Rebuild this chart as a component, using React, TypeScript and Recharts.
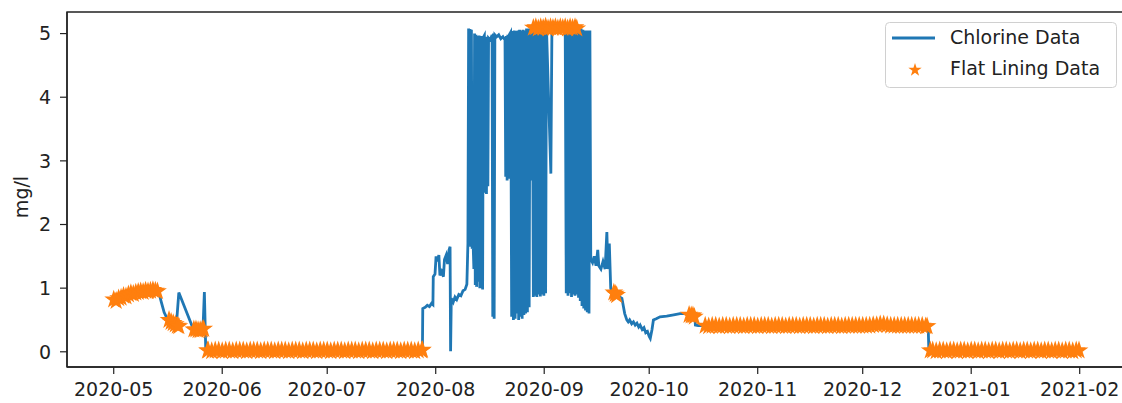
import { ComposedChart, Line, Scatter, XAxis, YAxis, ZAxis, ReferenceArea, Legend, Symbols } from "recharts";

// x values are days since 2020-05-01
const monthTicks = [0, 31, 61, 92, 123, 153, 184, 214, 245, 276];
const monthLabels = [
  "2020-05", "2020-06", "2020-07", "2020-08", "2020-09",
  "2020-10", "2020-11", "2020-12", "2021-01", "2021-02",
];
const valueTicks = [0, 1, 2, 3, 4, 5];

const X_DOMAIN: [number, number] = [-13.35, 289.8];
const Y_DOMAIN: [number, number] = [-0.239, 5.339];

// [day, mg/l]
const chlorine: [number, number][] = [
  [0, 0.82], [1, 0.83], [2, 0.86], [3, 0.88], [4, 0.9], [5, 0.91], [6, 0.93], [7, 0.93], [8, 0.94],
  [9, 0.95], [10, 0.95], [11, 0.96], [12, 0.96], [12.8, 0.95], [13.6, 0.78], [14.4, 0.62], [15.2, 0.53],
  [16, 0.49], [17, 0.45], [17.9, 0.42], [18.6, 0.93], [22.5, 0.39], [23.5, 0.36], [24.5, 0.35],
  [25.5, 0.35], [25.9, 0.94], [26.3, 0.02], [88.2, 0.02],
  [88.3, 0.68], [89, 0.7], [89.6, 0.73], [90.2, 0.71], [90.8, 0.76], [91.2, 0.74], [91.3, 1.18],
  [91.8, 1.22], [92.1, 1.5], [92.5, 1.42], [92.9, 1.52], [93.2, 1.2], [93.7, 1.26], [94.2, 1.18],
  [94.5, 1.45], [95, 1.52], [95.4, 1.38], [95.8, 1.6], [96.1, 1.65], [96.25, 0.01], [96.45, 0.84],
  [97, 0.78], [97.5, 0.86], [98, 0.82], [98.6, 0.9], [99.2, 0.88], [99.8, 0.96], [100.4, 0.98],
  [100.9, 1.06], [101.2, 1.7],
  [101.4, 5.08], [101.6, 1.72], [101.8, 5.07], [102, 1.65], [102.2, 5.06], [102.4, 1.62], [102.7, 1.68],
  [102.9, 1.3], [103.1, 5.0], [103.3, 1.05], [103.5, 4.98], [103.7, 1.02], [103.9, 4.96], [104.1, 1.1],
  [104.4, 4.97], [104.6, 1.0], [104.8, 4.95], [105, 1.02], [105.2, 4.96], [105.4, 0.98], [105.6, 4.94],
  [105.9, 4.97], [106.1, 2.5], [106.3, 4.92], [106.5, 2.48], [106.7, 4.95], [106.9, 2.6], [107.1, 4.93],
  [107.6, 4.9], [108.1, 4.98], [108.3, 0.55], [108.5, 5.0], [108.7, 0.52], [108.9, 4.98], [109.4, 4.95],
  [110, 4.98], [110.6, 4.92], [111.2, 4.95], [111.8, 4.9], [112, 2.75], [112.2, 4.96], [112.4, 2.69],
  [112.6, 4.98], [112.8, 2.72], [113, 4.98], [113.4, 5.02], [113.7, 0.55], [113.95, 5.04], [114.2, 0.5],
  [114.45, 5.05], [114.7, 0.52], [114.95, 5.04], [115.2, 0.6], [115.45, 5.05], [115.7, 0.5],
  [115.95, 5.06], [116.2, 0.55], [116.45, 5.05], [116.7, 0.52], [116.95, 5.06], [117.2, 0.58],
  [117.45, 5.05], [117.7, 0.6], [117.95, 5.08], [118.2, 0.62], [118.45, 5.08], [118.7, 0.7],
  [118.95, 5.08], [119.3, 2.69], [119.6, 5.08], [119.9, 0.86], [120.15, 5.08], [120.4, 0.88],
  [120.65, 5.08], [120.9, 0.86], [121.15, 5.08], [121.4, 0.9], [121.65, 5.08], [121.9, 0.87],
  [122.15, 5.08], [122.4, 0.9], [122.65, 5.08], [122.9, 0.88], [123.15, 5.08], [123.4, 0.92],
  [123.65, 5.08], [124.9, 2.8], [125.2, 5.08], [129, 5.08], [129.3, 0.92], [129.55, 5.08], [129.8, 0.88],
  [130.05, 5.08], [130.3, 0.92], [130.55, 5.08], [130.8, 0.86], [131.05, 5.08], [131.3, 0.9],
  [131.55, 5.08], [131.8, 0.88], [132.05, 5.08], [132.3, 0.9], [132.55, 5.08], [132.8, 0.85],
  [133.05, 5.08], [133.3, 0.8], [133.55, 5.08], [133.8, 0.72], [134.05, 5.06], [134.3, 0.68],
  [134.55, 5.05], [134.8, 0.65], [135.05, 5.05], [135.3, 0.62], [135.55, 5.05], [135.8, 0.6],
  [136.05, 5.05], [136.3, 1.45], [136.8, 1.4], [137.3, 1.5], [137.8, 1.35], [138.3, 1.6], [138.6, 1.35],
  [139.2, 1.3], [139.8, 1.42], [140.4, 1.3], [140.9, 1.88], [141.2, 1.3], [141.6, 1.7],
  [142, 1.0], [142.5, 0.92], [143.2, 0.9], [144, 0.88], [145.2, 0.84], [146, 0.6], [146.6, 0.5],
  [147, 0.47], [147.4, 0.5], [148, 0.44], [148.5, 0.47], [149, 0.42], [149.5, 0.45], [150, 0.39],
  [150.4, 0.42], [151, 0.35], [151.5, 0.38], [152, 0.3], [152.5, 0.32], [153, 0.24], [153.3, 0.21],
  [153.8, 0.35], [154.2, 0.5], [155, 0.52], [156.1, 0.55], [158, 0.56], [160, 0.58],
  [161.8, 0.6], [163.7, 0.6], [165, 0.58], [166, 0.57], [166.2, 0.42], [167, 0.41], [232.7, 0.41],
  [232.9, 0.02], [276, 0.02],
];

// [day, mg/l] points flagged as flat lining
const flatLining: [number, number][] = [
  [0, 0.82], [0.7, 0.8], [1.4, 0.84], [2.1, 0.85], [2.8, 0.88], [3.5, 0.87], [4.2, 0.9], [4.9, 0.92],
  [5.6, 0.91], [6.3, 0.93], [7, 0.94], [7.7, 0.95], [8.4, 0.94], [9.1, 0.96], [9.8, 0.95], [10.5, 0.96],
  [11.2, 0.97], [11.9, 0.96], [12.5, 0.95],
  [15.8, 0.5], [16.4, 0.47], [17, 0.45], [17.6, 0.43], [18.2, 0.41], [18.6, 0.4],
  [22.9, 0.35], [23.5, 0.35], [24.1, 0.34], [24.7, 0.34], [25.3, 0.35], [25.7, 0.36],
  [26.8, 0.02], [27, 0.02], [28, 0.01], [29, 0.02], [30, 0.02], [31, 0.01], [32, 0.02], [33, 0.02],
  [34, 0.01], [35, 0.02], [36, 0.02], [37, 0.02], [38, 0.01], [39, 0.02], [40, 0.02], [41, 0.02],
  [42, 0.01], [43, 0.02], [44, 0.02], [45, 0.02], [46, 0.01], [47, 0.02], [48, 0.02], [49, 0.02],
  [50, 0.01], [51, 0.02], [52, 0.02], [53, 0.02], [54, 0.01], [55, 0.02], [56, 0.02], [57, 0.02],
  [58, 0.01], [59, 0.02], [60, 0.02], [61, 0.02], [62, 0.01], [63, 0.02], [64, 0.02], [65, 0.02],
  [66, 0.01], [67, 0.02], [68, 0.02], [69, 0.02], [70, 0.01], [71, 0.02], [72, 0.02], [73, 0.02],
  [74, 0.01], [75, 0.02], [76, 0.02], [77, 0.02], [78, 0.01], [79, 0.02], [80, 0.02], [81, 0.02],
  [82, 0.01], [83, 0.02], [84, 0.02], [85, 0.02], [86, 0.01], [87, 0.02], [88, 0.02], [88.2, 0.03],
  [119.9, 5.09], [120.6, 5.1], [121.3, 5.08], [122, 5.1], [122.7, 5.09], [123.4, 5.11], [124.1, 5.08],
  [124.8, 5.1], [125.5, 5.09], [126.2, 5.1], [126.9, 5.08], [127.6, 5.1], [128.3, 5.09], [129, 5.1],
  [129.7, 5.08], [130.4, 5.1], [131.1, 5.09], [131.8, 5.1], [132.3, 5.08],
  [142.9, 0.93], [143.3, 0.91], [143.7, 0.89],
  [164.4, 0.58], [165, 0.57], [165.5, 0.57], [165.9, 0.55],
  [169, 0.41], [170, 0.4], [171, 0.41], [172, 0.41], [173, 0.4], [174, 0.41], [175, 0.41], [176, 0.4],
  [177, 0.41], [178, 0.41], [179, 0.41], [180, 0.4], [181, 0.41], [182, 0.41], [183, 0.41], [184, 0.4],
  [185, 0.41], [186, 0.41], [187, 0.41], [188, 0.4], [189, 0.41], [190, 0.41], [191, 0.41], [192, 0.4],
  [193, 0.41], [194, 0.41], [195, 0.41], [196, 0.4], [197, 0.41], [198, 0.41], [199, 0.41], [200, 0.4],
  [201, 0.41], [202, 0.41], [203, 0.41], [204, 0.4], [205, 0.41], [206, 0.41], [207, 0.41], [208, 0.4],
  [209, 0.41], [210, 0.41], [211, 0.41], [212, 0.41], [213, 0.41], [214, 0.41], [215, 0.41], [216, 0.41],
  [217, 0.42], [218, 0.42], [219, 0.43], [220, 0.43], [221, 0.42], [222, 0.41], [223, 0.41], [224, 0.41],
  [225, 0.41], [226, 0.41], [227, 0.41], [228, 0.41], [229, 0.41], [230, 0.41], [231, 0.41], [232, 0.4],
  [232.4, 0.4],
  [233.3, 0.02], [234, 0.02], [235, 0.01], [236, 0.02], [237, 0.02], [238, 0.01], [239, 0.02], [240, 0.02],
  [241, 0.01], [242, 0.02], [243, 0.02], [244, 0.01], [245, 0.02], [246, 0.02], [247, 0.01], [248, 0.02],
  [249, 0.02], [250, 0.01], [251, 0.02], [252, 0.02], [253, 0.01], [254, 0.02], [255, 0.02], [256, 0.01],
  [257, 0.02], [258, 0.02], [259, 0.01], [260, 0.02], [261, 0.02], [262, 0.01], [263, 0.02], [264, 0.02],
  [265, 0.01], [266, 0.02], [267, 0.02], [268, 0.01], [269, 0.02], [270, 0.02], [271, 0.01], [272, 0.02],
  [273, 0.02], [274, 0.01], [275, 0.02], [275.8, 0.02],
];

const chlorineData = chlorine.map(([day, value]) => ({ day, value }));
const flatData = flatLining.map(([day, value]) => ({ day, value }));

const BLUE = "#1f77b4";
const ORANGE = "#ff7f0e";
const INK = "#222222";
const FONT = "DejaVu Sans";

function LegendBox() {
  return (
    <svg width={232} height={66} style={{ display: "block" }}>
      <rect x={0.5} y={0.5} width={231} height={65} rx={4} fill="rgba(255,255,255,0.8)" stroke="#d0d0d0" />
      <line x1={7} x2={50} y1={16} y2={16} stroke={BLUE} strokeWidth={2.8} />
      <Symbols cx={30} cy={48} type="star" size={55} fill={ORANGE} />
      <text x={65} y={22} fontSize={19} fontFamily={FONT} fill={INK}>Chlorine Data</text>
      <text x={65} y={53} fontSize={19} fontFamily={FONT} fill={INK}>Flat Lining Data</text>
    </svg>
  );
}

export default function App() {
  return (
    <div style={{ position: "absolute", left: 0, top: 0, width: 1122, height: 403, overflow: "hidden", background: "#fff" }}>
      <ComposedChart width={1130} height={403} margin={{ top: 12, right: 2, bottom: 0, left: 0 }}>
        <XAxis
          type="number"
          dataKey="day"
          domain={X_DOMAIN}
          allowDataOverflow
          ticks={monthTicks}
          tickFormatter={(d: number) => monthLabels[monthTicks.indexOf(d)] ?? ""}
          height={36}
          tickSize={7}
          tickMargin={9}
          interval={0}
          axisLine={{ stroke: INK, strokeWidth: 1.4 }}
          tickLine={{ stroke: INK, strokeWidth: 1.2 }}
          tick={{ fontSize: 19, fill: INK, fontFamily: FONT }}
        />
        <YAxis
          type="number"
          dataKey="value"
          domain={Y_DOMAIN}
          allowDataOverflow
          ticks={valueTicks}
          width={67}
          tickSize={7}
          tickMargin={9}
          interval={0}
          axisLine={{ stroke: INK, strokeWidth: 1.4 }}
          tickLine={{ stroke: INK, strokeWidth: 1.2 }}
          tick={{ fontSize: 19, fill: INK, fontFamily: FONT }}
          label={{
            content: () => (
              <text
                x={21}
                y={197}
                transform="rotate(-90 21 197)"
                textAnchor="middle"
                dominantBaseline="central"
                fontSize={19}
                fontFamily={FONT}
                fill={INK}
              >
                mg/l
              </text>
            ),
          }}
        />
        <ZAxis type="number" range={[110, 110]} />
        <ReferenceArea
          x1={X_DOMAIN[0]}
          x2={X_DOMAIN[1]}
          y1={Y_DOMAIN[0]}
          y2={Y_DOMAIN[1]}
          fill="none"
          stroke={INK}
          strokeWidth={1.4}
        />
        <Line
          data={chlorineData}
          dataKey="value"
          type="linear"
          stroke={BLUE}
          strokeWidth={2.8}
          dot={false}
          isAnimationActive={false}
        />
        <Scatter data={flatData} dataKey="value" shape="star" fill={ORANGE} isAnimationActive={false} />
        <Legend
          layout="vertical"
          align="center"
          verticalAlign="middle"
          wrapperStyle={{ top: 22, left: 885, width: 232, height: 66 }}
          content={() => <LegendBox />}
        />
      </ComposedChart>
    </div>
  );
}
